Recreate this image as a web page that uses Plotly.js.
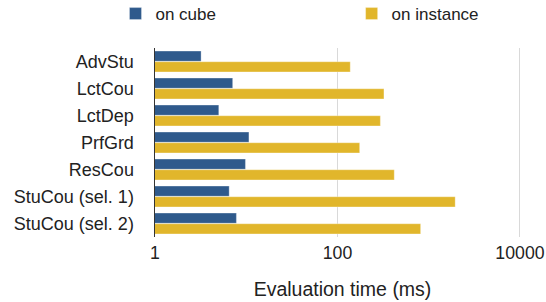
<!DOCTYPE html>
<html><head><meta charset="utf-8">
<script src="https://cdn.plot.ly/plotly-3.0.1.min.js"></script>
<style>html,body{margin:0;padding:0;background:#fff}#chart{width:546px;height:302px}</style>
</head><body><div id="chart"></div>
<script>
const categories = ["AdvStu","LctCou","LctDep","PrfGrd","ResCou","StuCou (sel. 1)","StuCou (sel. 2)"];
const onCube = [3.2, 7.1, 5.0, 10.7, 9.8, 6.5, 7.8];
const onInstance = [138, 323, 295, 175, 419, 1950, 815];
const tickVals = [1, 100, 10000];
const tickText = ["1", "100", "10000"];

const traces = [
  {type:"bar", orientation:"h", name:"on cube", y:categories, x:onCube, legend:"legend",
   marker:{color:"#2f5a8c", line:{color:"rgba(255,255,255,0.6)", width:0.5}}},
  {type:"bar", orientation:"h", name:"on instance", y:categories, x:onInstance, legend:"legend2",
   marker:{color:"#e1b62b", line:{color:"rgba(255,255,255,0.6)", width:0.5}}}
];
const legendBase = {orientation:"h", xanchor:"left", y:0.9536, yanchor:"middle",
          xref:"container", yref:"container", bgcolor:"rgba(0,0,0,0)",
          font:{size:17, color:"#222"}};
const layout = {
  width:546, height:302,
  margin:{l:155, r:16, t:48, b:65},
  paper_bgcolor:"#fff", plot_bgcolor:"#fff",
  font:{family:"Liberation Sans, Arial, sans-serif", size:18, color:"#222"},
  barmode:"group", bargap:0.21, bargroupgap:0.05,
  showlegend:true,
  legend:Object.assign({}, legendBase, {x:0.2115}),
  legend2:Object.assign({}, legendBase, {x:0.644}),
  xaxis:{type:"log", range:[0, 4.11], tickvals:tickVals, ticktext:tickText,
         showgrid:true, gridcolor:"#d9d9d9", gridwidth:1, zeroline:false,
         showline:false, ticks:"", tickfont:{size:17.7}, ticklabelstandoff:3,
         title:{text:"Evaluation time (ms)", font:{size:19.5}, standoff:20}},
  yaxis:{autorange:"reversed", showline:true, linecolor:"#333", linewidth:1.5,
         ticks:"", showgrid:false, tickfont:{size:18}, ticklabelstandoff:16}
};
Plotly.newPlot("chart", traces, layout, {displayModeBar:false, staticPlot:true});
</script></body></html>
